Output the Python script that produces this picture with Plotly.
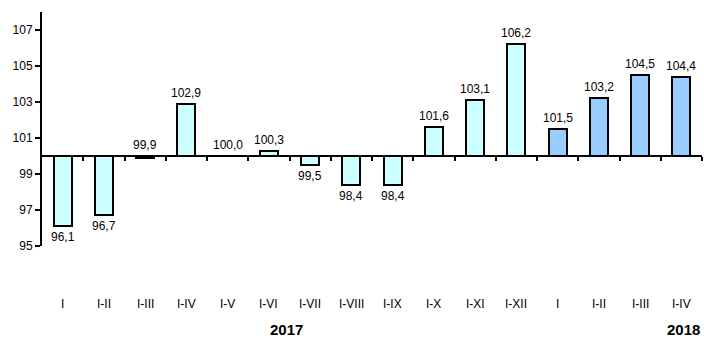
import plotly.graph_objects as go

# Cumulative index values (same period of previous year = 100)
categories = ["I", "I-II", "I-III", "I-IV", "I-V", "I-VI", "I-VII", "I-VIII",
              "I-IX", "I-X", "I-XI", "I-XII", "I", "I-II", "I-III", "I-IV"]
values_2017 = [96.1, 96.7, 99.9, 102.9, 100.0, 100.3, 99.5, 98.4,
               98.4, 101.6, 103.1, 106.2]
values_2018 = [101.5, 103.2, 104.5, 104.4]
years = ["2017", "2018"]
y_ticks = [95, 97, 99, 101, 103, 105, 107]

BASE = 100.0
FONT = "Liberation Sans, Arial, sans-serif"
Y_MIN, Y_MAX = 95, 108

n17 = len(values_2017)
all_values = values_2017 + values_2018
x17 = list(range(n17))
x18 = list(range(n17, n17 + len(values_2018)))

fig = go.Figure()
fig.add_trace(go.Bar(
    x=x17, y=[v - BASE for v in values_2017], base=BASE, width=0.44,
    marker=dict(color="#CCFFFF", line=dict(color="#000000", width=2)),
    hoverinfo="skip", showlegend=False,
))
fig.add_trace(go.Bar(
    x=x18, y=[v - BASE for v in values_2018], base=BASE, width=0.44,
    marker=dict(color="#99CCFF", line=dict(color="#000000", width=2)),
    hoverinfo="skip", showlegend=False,
))

annotations = []
# value labels: above rising bars, below falling ones
for i, v in enumerate(all_values):
    txt = f"{v:.1f}".replace(".", ",")
    if v >= 99.9:
        annotations.append(dict(x=i, y=max(v, BASE), xref="x", yref="y", text=txt,
                                showarrow=False, yanchor="bottom", yshift=2,
                                font=dict(family=FONT, size=12, color="#000")))
    else:
        annotations.append(dict(x=i, y=v, xref="x", yref="y", text=txt,
                                showarrow=False, yanchor="top", yshift=-2,
                                font=dict(family=FONT, size=12, color="#000")))

# period labels along the bottom
for i, c in enumerate(categories):
    annotations.append(dict(x=i, y=0, xref="x", yref="paper", text=c,
                            showarrow=False, yanchor="middle", yshift=-58,
                            font=dict(family=FONT, size=12, color="#000")))

# year labels
annotations.append(dict(x=5.42, y=0, xref="x", yref="paper", text=f"<b>{years[0]}</b>",
                        showarrow=False, yanchor="middle", yshift=-83,
                        font=dict(family=FONT, size=15, color="#000")))
annotations.append(dict(x=1.0, y=0, xref="paper", yref="paper", text=f"<b>{years[1]}</b>",
                        showarrow=False, xanchor="right", yanchor="middle", yshift=-83,
                        font=dict(family=FONT, size=15, color="#000")))

fig.update_layout(
    width=704, height=338,
    margin=dict(l=42, r=2, t=12, b=92),
    paper_bgcolor="#FFFFFF", plot_bgcolor="#FFFFFF",
    bargap=0, barmode="overlay",
    annotations=annotations,
    xaxis=dict(
        range=[-0.5, len(all_values) - 0.5],
        anchor="free", position=(BASE - Y_MIN) / (Y_MAX - Y_MIN),
        showline=True, linecolor="#000", linewidth=2,
        tickmode="array", tickvals=[i + 0.5 for i in range(len(all_values))],
        ticks="outside", ticklen=4, tickwidth=2, tickcolor="#000",
        showticklabels=False, showgrid=False, zeroline=False,
    ),
    yaxis=dict(
        range=[Y_MIN, Y_MAX],
        tickmode="array", tickvals=y_ticks,
        ticks="outside", ticklen=5, tickwidth=2, tickcolor="#000",
        showline=True, linecolor="#000", linewidth=2,
        showgrid=False, zeroline=False,
        tickfont=dict(family=FONT, size=12, color="#000"),
    ),
)

fig.write_html("out.html")
